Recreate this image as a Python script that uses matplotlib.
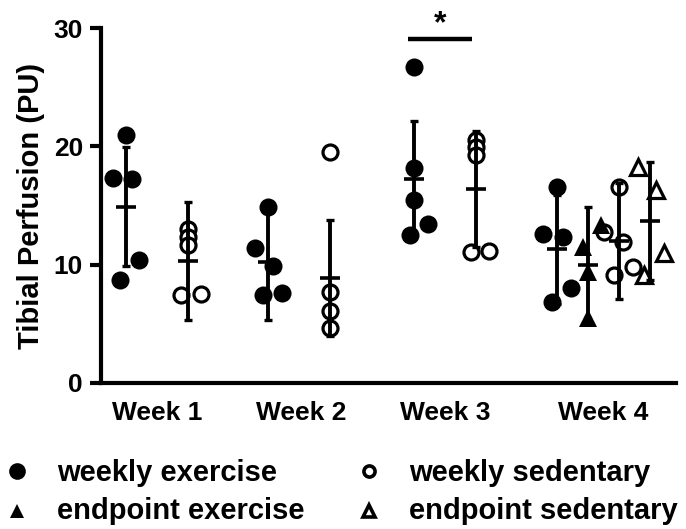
import matplotlib
matplotlib.use("Agg")
import matplotlib.pyplot as plt
from matplotlib.lines import Line2D

plt.rcParams['font.family'] = ['Liberation Sans', 'DejaVu Sans']
plt.rcParams['font.weight'] = 'bold'

# ---- data ------------------------------------------------------------------
weeks = ["Week 1", "Week 2", "Week 3", "Week 4"]
week_pos = [1.8, 6.45, 11.1, 16.2]

# weekly exercise (filled circles)
we_x = [0.8, 5.4, 10.1, 14.7]
we_vals = [[20.96, 17.33, 17.24, 10.40, 8.71],
           [14.88, 11.41, 9.89, 7.44, 7.61],
           [26.74, 18.17, 15.47, 13.44, 12.51],
           [16.57, 12.60, 12.34, 8.03, 6.85]]
we_jit = [[0, -0.42, 0.19, 0.42, -0.18],
          [0, -0.43, 0.16, -0.16, 0.44],
          [0, 0, 0, 0.45, -0.14],
          [0, -0.43, 0.19, 0.45, -0.16]]
we_mean = [14.9, 10.2, 17.25, 11.3]
we_sd = [5.05, 4.9, 4.9, 4.6]

# weekly sedentary (open circles)
ws_x = [2.8, 7.4, 12.1, 16.7]
ws_vals = [[13.02, 12.34, 11.67, 7.44, 7.52],
           [19.53, 7.69, 6.09, 4.65],
           [20.54, 19.95, 19.27, 11.07, 11.16],
           [16.57, 12.76, 11.92, 9.80, 9.13]]
ws_jit = [[0, 0, 0, -0.21, 0.42],
          [0, 0, 0, 0],
          [0, 0, 0, -0.18, 0.41],
          [0, -0.48, 0.13, 0.45, -0.16]]
ws_mean = [10.3, 8.9, 16.4, 12.0]
ws_sd = [5.0, 4.9, 4.9, 4.9]

# endpoint exercise (filled triangles), week 4 only
ee_x = [15.7]
ee_vals = [[13.36, 11.50, 9.38, 5.49]]
ee_jit = [[0.44, -0.16, 0, 0]]
ee_mean = [9.97]
ee_sd = [4.9]

# endpoint sedentary (open triangles), week 4 only
es_x = [17.7]
es_vals = [[18.26, 16.31, 10.99, 9.13]]
es_jit = [[-0.39, 0.19, 0.45, -0.19]]
es_mean = [13.7]
es_sd = [5.0]

sig_span = [9.9, 11.97]
sig_y = 29.1

# ---- figure ----------------------------------------------------------------
fig = plt.figure(figsize=(6.86, 5.29), dpi=100)
ax = fig.add_axes([101 / 686, 1 - 383 / 529, 575 / 686, 355 / 529])


def draw_group(xs, vals, jit, means, sds, marker, filled, ms):
    for x, v, j, m, s in zip(xs, vals, jit, means, sds):
        px = [x + d for d in j]
        if filled:
            ax.plot(px, v, ls="none", marker=marker, ms=ms, color="black",
                    mec="black", mew=0, zorder=2, clip_on=False)
        else:
            ax.plot(px, v, ls="none", marker=marker, ms=ms, mfc="white",
                    mec="black", mew=2.3, zorder=2, clip_on=False)
        ax.errorbar([x], [m], yerr=[s], fmt="none", ecolor="black",
                    elinewidth=2.8, capsize=2.6, capthick=2.4, zorder=3)
        ax.plot([x], [m], ls="none", marker="_", ms=14, mew=2.6,
                color="black", zorder=3)


draw_group(we_x, we_vals, we_jit, we_mean, we_sd, "o", True, 13)
draw_group(ws_x, ws_vals, ws_jit, ws_mean, ws_sd, "o", False, 10.8)
draw_group(ee_x, ee_vals, ee_jit, ee_mean, ee_sd, "^", True, 13)
draw_group(es_x, es_vals, es_jit, es_mean, es_sd, "^", False, 11.5)

# significance bar
ax.plot(sig_span, [sig_y, sig_y], color="black", lw=3.2, clip_on=False,
        solid_capstyle="butt")
ax.text(sum(sig_span) / 2, 29.6, "*", ha="center", va="baseline",
        fontsize=23, fontweight="bold", clip_on=False)

ax.set_xlim(0, 575 / 31)
ax.set_ylim(0, 30)
ax.set_yticks([0, 10, 20, 30])
ax.set_xticks(week_pos)
ax.set_xticklabels(weeks)
for sp in ["top", "right"]:
    ax.spines[sp].set_visible(False)
for sp in ["left", "bottom"]:
    ax.spines[sp].set_linewidth(3)
ax.tick_params(axis="y", length=8, width=3, pad=5, labelsize=19)
ax.tick_params(axis="x", length=0, pad=13, labelsize=19)
ax.set_ylabel("Tibial Perfusion (PU)", fontsize=21, fontweight="bold")
ax.yaxis.set_label_coords(-0.098, 0.5)

# ---- legend (bottom, two columns) -----------------------------------------
leg_labels = ["weekly exercise", "weekly sedentary",
              "endpoint exercise", "endpoint sedentary"]
leg_style = [dict(marker="o", ms=12, color="black", mew=0),
             dict(marker="o", ms=8, mfc="white", mec="black", mew=2.6),
             dict(marker="^", ms=10, color="black", mew=0),
             dict(marker="^", ms=9, mfc="white", mec="black", mew=2.6)]
col_mark = [17 / 686, 369 / 686]
col_text = [57 / 686, 409 / 686]
row_mark = [1 - 471 / 529, 1 - 511 / 529]
row_base = [1 - 481 / 529, 1 - 519 / 529]
for i, (lab, st) in enumerate(zip(leg_labels, leg_style)):
    r, c = divmod(i, 2)
    fig.add_artist(Line2D([col_mark[c]], [row_mark[r]], ls="none",
                          transform=fig.transFigure, **st))
    fig.text(col_text[c], row_base[r], lab, ha="left", va="baseline",
             fontsize=21, fontweight="bold")

fig.savefig("out.png", dpi=100)
